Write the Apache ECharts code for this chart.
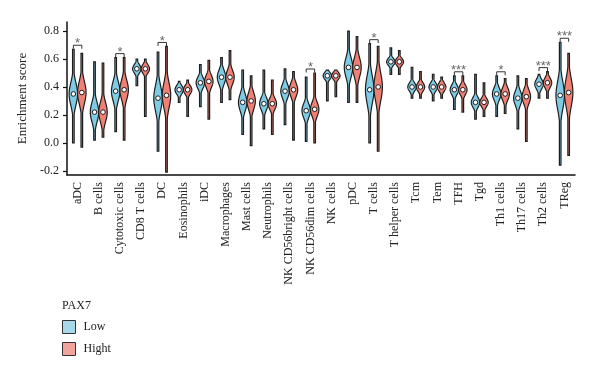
<!DOCTYPE html>
<html>
<head>
<meta charset="utf-8">
<script src="https://cdn.jsdelivr.net/npm/echarts@6/dist/echarts.min.js"></script>
<style>
  html, body { margin: 0; padding: 0; background: #fff; }
  #chart { width: 600px; height: 376px; }
</style>
</head>
<body>
<div id="chart"></div>
<script>
// cell types on the x axis
var categories = ['aDC', 'B cells', 'Cytotoxic cells', 'CD8 T cells', 'DC', 'Eosinophils', 'iDC',
  'Macrophages', 'Mast cells', 'Neutrophils', 'NK CD56bright cells', 'NK CD56dim cells', 'NK cells',
  'pDC', 'T cells', 'T helper cells', 'Tcm', 'Tem', 'TFH', 'Tgd', 'Th1 cells', 'Th17 cells',
  'Th2 cells', 'TReg'];

// PAX7 low group: min, max, median and spread of the violin body
var lowMin = [0.00, 0.02, 0.08, 0.41, -0.06, 0.29, 0.26, 0.29, 0.06, 0.10, 0.13, 0.01, 0.30, 0.29, 0.00, 0.49, 0.32, 0.30, 0.24, 0.17, 0.19, 0.10, 0.32, -0.16];
var lowMax = [0.67, 0.58, 0.61, 0.60, 0.65, 0.44, 0.56, 0.61, 0.52, 0.52, 0.53, 0.47, 0.52, 0.80, 0.71, 0.68, 0.54, 0.49, 0.48, 0.49, 0.48, 0.48, 0.49, 0.72];
var lowMed = [0.35, 0.22, 0.37, 0.53, 0.32, 0.38, 0.43, 0.47, 0.29, 0.28, 0.37, 0.23, 0.48, 0.54, 0.38, 0.58, 0.40, 0.40, 0.38, 0.29, 0.35, 0.32, 0.42, 0.34];
var lowSpread = [0.08, 0.07, 0.07, 0.03, 0.09, 0.03, 0.04, 0.05, 0.06, 0.045, 0.05, 0.05, 0.025, 0.07, 0.10, 0.025, 0.03, 0.03, 0.035, 0.035, 0.045, 0.05, 0.035, 0.10];

// PAX7 high group
var highMin = [-0.03, 0.04, 0.02, 0.19, -0.21, 0.19, 0.17, 0.31, -0.02, 0.06, 0.02, 0.00, 0.33, 0.29, -0.06, 0.49, 0.32, 0.32, 0.22, 0.19, 0.21, 0.01, 0.32, -0.09];
var highMax = [0.64, 0.57, 0.61, 0.60, 0.69, 0.45, 0.59, 0.66, 0.48, 0.45, 0.51, 0.50, 0.52, 0.76, 0.69, 0.66, 0.51, 0.47, 0.48, 0.43, 0.46, 0.46, 0.51, 0.64];
var highMed = [0.36, 0.22, 0.38, 0.53, 0.34, 0.38, 0.44, 0.47, 0.30, 0.28, 0.38, 0.24, 0.48, 0.54, 0.40, 0.58, 0.40, 0.40, 0.38, 0.29, 0.35, 0.33, 0.43, 0.36];
var highSpread = [0.08, 0.07, 0.07, 0.03, 0.09, 0.03, 0.045, 0.05, 0.06, 0.04, 0.05, 0.05, 0.025, 0.07, 0.10, 0.025, 0.03, 0.03, 0.035, 0.03, 0.045, 0.05, 0.035, 0.10];

// significance marks
var sig = ['*', '', '*', '', '*', '', '', '', '', '', '', '*', '', '', '*', '', '', '', '***', '', '*', '', '***', '***'];

var yTicks = [-0.2, 0, 0.2, 0.4, 0.6, 0.8];

var serif = "'Liberation Serif', 'DejaVu Serif', serif";

function buildViolinData(mins, maxs, meds, spreads) {
  var out = [];
  for (var i = 0; i < categories.length; i++) {
    out.push([i, mins[i], maxs[i], meds[i], spreads[i]]);
  }
  return out;
}

function violinRenderer(side, color) {
  return function (params, api) {
    var ci = api.value(0);
    var lo = api.value(1), hi = api.value(2), med = api.value(3), sd = api.value(4);
    var band = api.size([1, 0])[0];
    var cx = api.coord([ci, med])[0] + side * band * 0.2;
    var halfW = band * 0.2;
    var n = 80;
    var right = [], left = [];
    for (var k = 0; k <= n; k++) {
      var v = lo + (hi - lo) * k / n;
      var w = Math.max(0.8, halfW * Math.exp(-0.5 * Math.pow((v - med) / sd, 2)));
      var y = api.coord([ci, v])[1];
      right.push([cx + w, y]);
      left.push([cx - w, y]);
    }
    var pts = right.concat(left.reverse());
    return {
      type: 'group',
      children: [
        { type: 'polygon', shape: { points: pts }, style: { fill: color, stroke: '#1e1e1e', lineWidth: 1.2 } },
        { type: 'circle', shape: { cx: cx, cy: api.coord([ci, med])[1], r: 2.3 }, style: { fill: '#fff', stroke: '#1e1e1e', lineWidth: 1 } }
      ]
    };
  };
}

var sigData = [];
for (var i = 0; i < categories.length; i++) {
  if (sig[i]) sigData.push([i, Math.max(lowMax[i], highMax[i]), sig[i]]);
}

var chart = echarts.init(document.getElementById('chart'));

var option = {
  animation: false,
  title: {
    text: 'PAX7',
    left: 62,
    top: 300,
    padding: 0,
    textStyle: { fontFamily: serif, fontSize: 12, fontWeight: 'normal', color: '#222' }
  },
  legend: {
    orient: 'vertical',
    left: 62,
    top: 320,
    padding: 0,
    itemWidth: 13,
    itemHeight: 13,
    itemGap: 8,
    icon: 'rect',
    itemStyle: { borderColor: '#333', borderWidth: 1 },
    textStyle: { fontFamily: serif, fontSize: 12, color: '#222', padding: [0, 0, 0, 3] },
    data: [
      { name: 'Low', itemStyle: { color: '#a6d8ea' } },
      { name: 'Hight', itemStyle: { color: '#f2a39b' } }
    ]
  },
  grid: { left: 67, right: 25, top: 22, bottom: 201 },
  xAxis: {
    type: 'category',
    data: categories,
    axisLine: { onZero: false, lineStyle: { color: '#111', width: 1.5 } },
    axisTick: { alignWithLabel: true, length: 4, lineStyle: { color: '#111', width: 1.2 } },
    axisLabel: { rotate: 90, interval: 0, margin: 7, fontFamily: serif, fontSize: 12, color: '#222' }
  },
  yAxis: {
    type: 'value',
    min: -0.23,
    max: 0.865,
    name: 'Enrichment score',
    nameLocation: 'middle',
    nameGap: 34,
    nameTextStyle: { fontFamily: serif, fontSize: 13, color: '#222' },
    splitLine: { show: false },
    axisLine: { show: true, lineStyle: { color: '#111', width: 1.5 } },
    axisTick: { show: true, length: 4, customValues: yTicks, lineStyle: { color: '#111', width: 1.2 } },
    axisLabel: {
      margin: 8, fontFamily: serif, fontSize: 12, color: '#222', customValues: yTicks,
      formatter: function (v) { return v.toFixed(1); }
    }
  },
  series: [
    {
      name: 'Low',
      type: 'custom',
      itemStyle: { color: '#7ecbe5' },
      renderItem: violinRenderer(-1, '#7ecbe5'),
      encode: { x: 0, y: [1, 2, 3] },
      data: buildViolinData(lowMin, lowMax, lowMed, lowSpread)
    },
    {
      name: 'Hight',
      type: 'custom',
      itemStyle: { color: '#ef8073' },
      renderItem: violinRenderer(1, '#ef8073'),
      encode: { x: 0, y: [1, 2, 3] },
      data: buildViolinData(highMin, highMax, highMed, highSpread)
    },
    {
      name: 'sig',
      type: 'custom',
      silent: true,
      encode: { x: 0, y: 1 },
      renderItem: function (params, api) {
        var ci = api.value(0);
        var band = api.size([1, 0])[0];
        var p = api.coord([ci, api.value(1)]);
        var y = p[1] - 4;
        var x1 = p[0] - band * 0.2, x2 = p[0] + band * 0.2;
        return {
          type: 'group',
          children: [
            { type: 'polyline', shape: { points: [[x1, y + 3.5], [x1, y], [x2, y], [x2, y + 3.5]] }, style: { fill: null, stroke: '#333', lineWidth: 1 } },
            { type: 'text', style: { x: p[0], y: y + 5, text: api.value(2), align: 'center', verticalAlign: 'bottom', fill: '#666', font: "13px 'Liberation Sans', sans-serif" } }
          ]
        };
      },
      data: sigData
    }
  ]
};

chart.setOption(option);
</script>
</body>
</html>
